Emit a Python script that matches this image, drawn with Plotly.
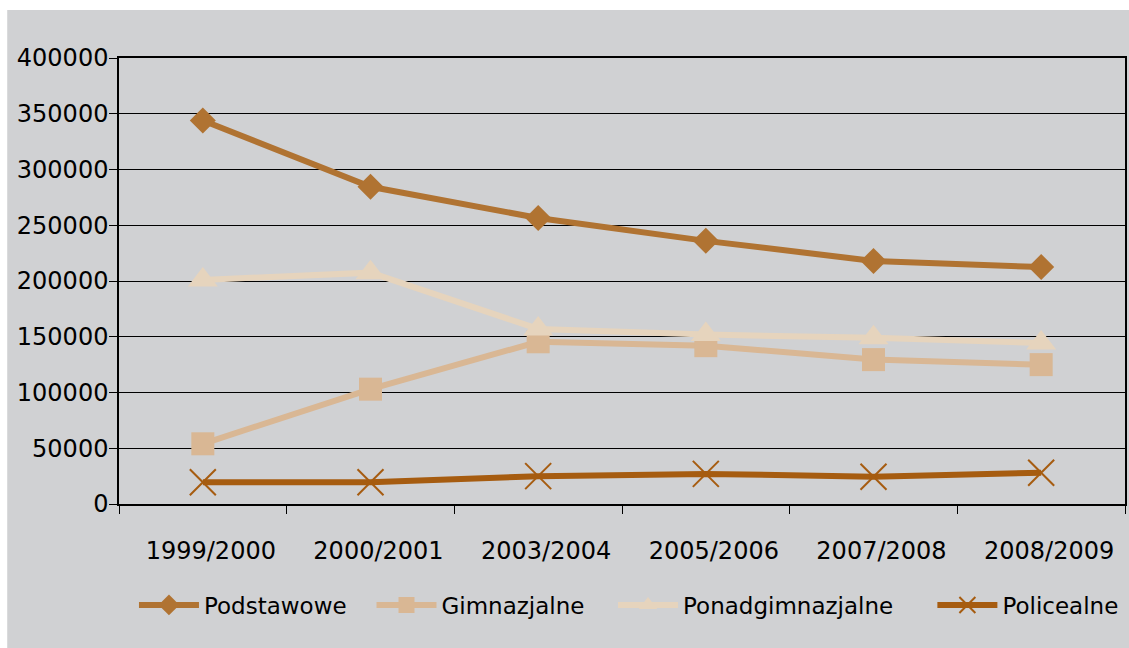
import plotly.graph_objects as go

categories = ["1999/2000", "2000/2001", "2003/2004", "2005/2006", "2007/2008", "2008/2009"]
podstawowe = [344000, 284500, 256500, 236000, 218000, 212500]
gimnazjalne = [54000, 103000, 145500, 142000, 129500, 125000]
ponadgimnazjalne = [201000, 207500, 157000, 152000, 149000, 144500]
policealne = [19500, 19500, 25000, 27000, 24500, 28000]
y_ticks = [0, 50000, 100000, 150000, 200000, 250000, 300000, 350000, 400000]

FONT = "DejaVu Sans"
BG = "#D0D1D3"

W, H = 1129, 648
L, R, T, B = 119, 1127, 58, 504  # plot area in page px

def px_x(p):
    return (p - L) / (R - L)

def px_y(p):
    return (B - p) / (B - T)

xpos = list(range(len(categories)))
label_shift = 8 / 168  # labels sit slightly right of the category centre

series = [
    ("Podstawowe", podstawowe, "#B07332", "diamond", 20, 134),
    ("Gimnazjalne", gimnazjalne, "#D9B794", "square", 23, 372),
    ("Ponadgimnazjalne", ponadgimnazjalne, "#E6D4BD", "triangle-up", 26, 614),
    ("Policealne", policealne, "#A65C10", "x-thin-open", 26, 934),
]

fig = go.Figure()
legend_layout = {}
for i, (name, vals, color, sym, size, lx) in enumerate(series):
    marker = dict(symbol=sym, size=size, color=color)
    if sym == "x-thin-open":
        marker["line"] = dict(color=color, width=2)
    lname = "legend" if i == 0 else f"legend{i + 1}"
    fig.add_trace(go.Scatter(
        x=xpos, y=vals, name=name, mode="lines+markers",
        line=dict(color=color, width=6), marker=marker, legend=lname,
        text=categories, hovertemplate="%{text}: %{y}<extra>" + name + "</extra>",
    ))
    legend_layout[lname] = dict(
        orientation="h", x=px_x(lx), xanchor="left", y=px_y(605), yanchor="middle",
        bgcolor="rgba(0,0,0,0)", itemwidth=60, font=dict(size=23, family=FONT),
    )

fig.add_shape(type="rect", xref="paper", yref="paper", layer="below",
              x0=px_x(7), x1=px_x(W + 20), y0=px_y(H + 20), y1=px_y(10),
              fillcolor=BG, line=dict(width=0))

fig.update_layout(
    width=W, height=H,
    margin=dict(l=L, r=W - R, t=T, b=H - B),
    paper_bgcolor="white", plot_bgcolor=BG,
    font=dict(family=FONT, size=24, color="black"),
    showlegend=True,
    xaxis=dict(range=[-0.5, 5.5], showgrid=False, zeroline=False,
               showline=True, linecolor="black", linewidth=1.5, mirror=True,
               tickmode="array", tickvals=[v + label_shift for v in xpos], ticktext=categories,
               ticks="", ticklabelstandoff=24, tickfont=dict(size=24),
               minor=dict(tickmode="array", tickvals=[v - 0.5 for v in xpos] + [len(xpos) - 0.5],
                          ticks="outside", ticklen=8, tickcolor="black", showgrid=False)),
    yaxis=dict(range=[0, 400000], tickvals=y_ticks, ticktext=[str(v) for v in y_ticks],
               showgrid=True, gridcolor="black", gridwidth=1.2,
               showline=True, linecolor="black", linewidth=1.5, mirror=True,
               zeroline=False, ticklabelstandoff=-4,
               ticks="outside", ticklen=8, tickcolor="black", tickfont=dict(size=24)),
    **legend_layout,
)

fig.write_html(
    "out.html",
    config={"displayModeBar": False},
    post_script="document.body.style.margin='0';document.documentElement.style.overflow='hidden';",
)
